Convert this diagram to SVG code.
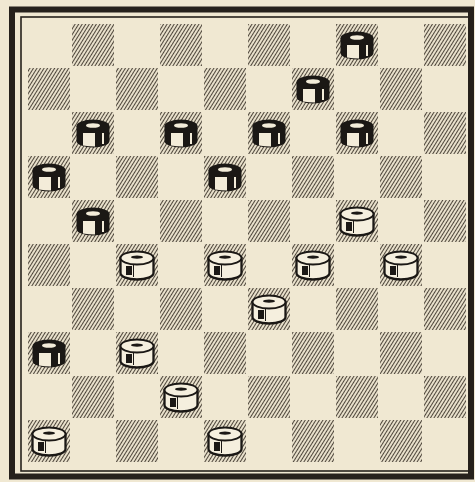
<svg xmlns="http://www.w3.org/2000/svg" width="475" height="482" viewBox="0 0 475 482">
<defs>
<style>
.dk{fill:url(#hatch)}
.frame{fill:none;stroke:#26211c}
</style>
<pattern id="hatch" patternUnits="userSpaceOnUse" width="10" height="3" patternTransform="rotate(-58)">
<rect width="10" height="3" fill="#f0e8d2"/>
<line x1="0" y1="1.5" x2="10" y2="1.5" stroke="#4e463b" stroke-width="1.1"/>
</pattern>
<g id="blk">
<path d="M-16.5,-7 V8 A16.5,6.5 0 0 0 16.5,8 V-7 Z" fill="#1b1815"/>
<path d="M-10,0 H2 V13.5 Q-4,13.5 -10,12.5 Z" fill="#f3ecd9"/>
<rect x="9" y="0" width="2" height="11" fill="#f3ecd9"/>
<ellipse cx="0" cy="-7" rx="16.5" ry="6.5" fill="#1b1815"/>
<ellipse cx="0" cy="-7.5" rx="7" ry="2.3" fill="#f3ecd9"/>
</g>
<g id="wht">
<path d="M-16.5,-7 V8 A16.5,6.5 0 0 0 16.5,8 V-7 Z" fill="#f5efde" stroke="#1b1815" stroke-width="2.3"/>
<ellipse cx="0" cy="-7" rx="16.5" ry="6.5" fill="#f5efde" stroke="#1b1815" stroke-width="2"/>
<ellipse cx="0" cy="-7.8" rx="6" ry="1.6" fill="#1b1815"/>
<rect x="-11" y="1" width="6" height="9" fill="#1b1815"/>
<line x1="-3.5" y1="0" x2="-3.5" y2="12" stroke="#1b1815" stroke-width="1"/>
</g>
</defs>
<rect width="475" height="482" fill="#f0e8d2"/>
<g id="board">
<rect class="frame" x="12" y="9.5" width="459" height="467" stroke-width="6"/>
<rect class="frame" x="21" y="17" width="449" height="454" stroke-width="1.6"/>
<g id="squares">
<rect class="dk" x="72" y="24" width="42" height="42"/><rect class="dk" x="160" y="24" width="42" height="42"/><rect class="dk" x="248" y="24" width="42" height="42"/><rect class="dk" x="336" y="24" width="42" height="42"/><rect class="dk" x="424" y="24" width="42" height="42"/>
<rect class="dk" x="28" y="68" width="42" height="42"/><rect class="dk" x="116" y="68" width="42" height="42"/><rect class="dk" x="204" y="68" width="42" height="42"/><rect class="dk" x="292" y="68" width="42" height="42"/><rect class="dk" x="380" y="68" width="42" height="42"/>
<rect class="dk" x="72" y="112" width="42" height="42"/><rect class="dk" x="160" y="112" width="42" height="42"/><rect class="dk" x="248" y="112" width="42" height="42"/><rect class="dk" x="336" y="112" width="42" height="42"/><rect class="dk" x="424" y="112" width="42" height="42"/>
<rect class="dk" x="28" y="156" width="42" height="42"/><rect class="dk" x="116" y="156" width="42" height="42"/><rect class="dk" x="204" y="156" width="42" height="42"/><rect class="dk" x="292" y="156" width="42" height="42"/><rect class="dk" x="380" y="156" width="42" height="42"/>
<rect class="dk" x="72" y="200" width="42" height="42"/><rect class="dk" x="160" y="200" width="42" height="42"/><rect class="dk" x="248" y="200" width="42" height="42"/><rect class="dk" x="336" y="200" width="42" height="42"/><rect class="dk" x="424" y="200" width="42" height="42"/>
<rect class="dk" x="28" y="244" width="42" height="42"/><rect class="dk" x="116" y="244" width="42" height="42"/><rect class="dk" x="204" y="244" width="42" height="42"/><rect class="dk" x="292" y="244" width="42" height="42"/><rect class="dk" x="380" y="244" width="42" height="42"/>
<rect class="dk" x="72" y="288" width="42" height="42"/><rect class="dk" x="160" y="288" width="42" height="42"/><rect class="dk" x="248" y="288" width="42" height="42"/><rect class="dk" x="336" y="288" width="42" height="42"/><rect class="dk" x="424" y="288" width="42" height="42"/>
<rect class="dk" x="28" y="332" width="42" height="42"/><rect class="dk" x="116" y="332" width="42" height="42"/><rect class="dk" x="204" y="332" width="42" height="42"/><rect class="dk" x="292" y="332" width="42" height="42"/><rect class="dk" x="380" y="332" width="42" height="42"/>
<rect class="dk" x="72" y="376" width="42" height="42"/><rect class="dk" x="160" y="376" width="42" height="42"/><rect class="dk" x="248" y="376" width="42" height="42"/><rect class="dk" x="336" y="376" width="42" height="42"/><rect class="dk" x="424" y="376" width="42" height="42"/>
<rect class="dk" x="28" y="420" width="42" height="42"/><rect class="dk" x="116" y="420" width="42" height="42"/><rect class="dk" x="204" y="420" width="42" height="42"/><rect class="dk" x="292" y="420" width="42" height="42"/><rect class="dk" x="380" y="420" width="42" height="42"/>
</g>
</g>
<g id="pieces">
<g id="b1"><use href="#blk" x="357" y="45"/></g>
<g id="b2"><use href="#blk" x="313" y="89"/></g>
<g id="b3"><use href="#blk" x="93" y="133"/></g>
<g id="b4"><use href="#blk" x="181" y="133"/></g>
<g id="b5"><use href="#blk" x="269" y="133"/></g>
<g id="b6"><use href="#blk" x="357" y="133"/></g>
<g id="b7"><use href="#blk" x="49" y="177"/></g>
<g id="b8"><use href="#blk" x="225" y="177"/></g>
<g id="b9"><use href="#blk" x="93" y="221"/></g>
<g id="b10"><use href="#blk" x="49" y="353"/></g>
<g id="w1"><use href="#wht" x="357" y="221"/></g>
<g id="w2"><use href="#wht" x="137" y="265"/></g>
<g id="w3"><use href="#wht" x="225" y="265"/></g>
<g id="w4"><use href="#wht" x="313" y="265"/></g>
<g id="w5"><use href="#wht" x="401" y="265"/></g>
<g id="w6"><use href="#wht" x="269" y="309"/></g>
<g id="w7"><use href="#wht" x="137" y="353"/></g>
<g id="w8"><use href="#wht" x="181" y="397"/></g>
<g id="w9"><use href="#wht" x="49" y="441"/></g>
<g id="w10"><use href="#wht" x="225" y="441"/></g>
</g>
</svg>
